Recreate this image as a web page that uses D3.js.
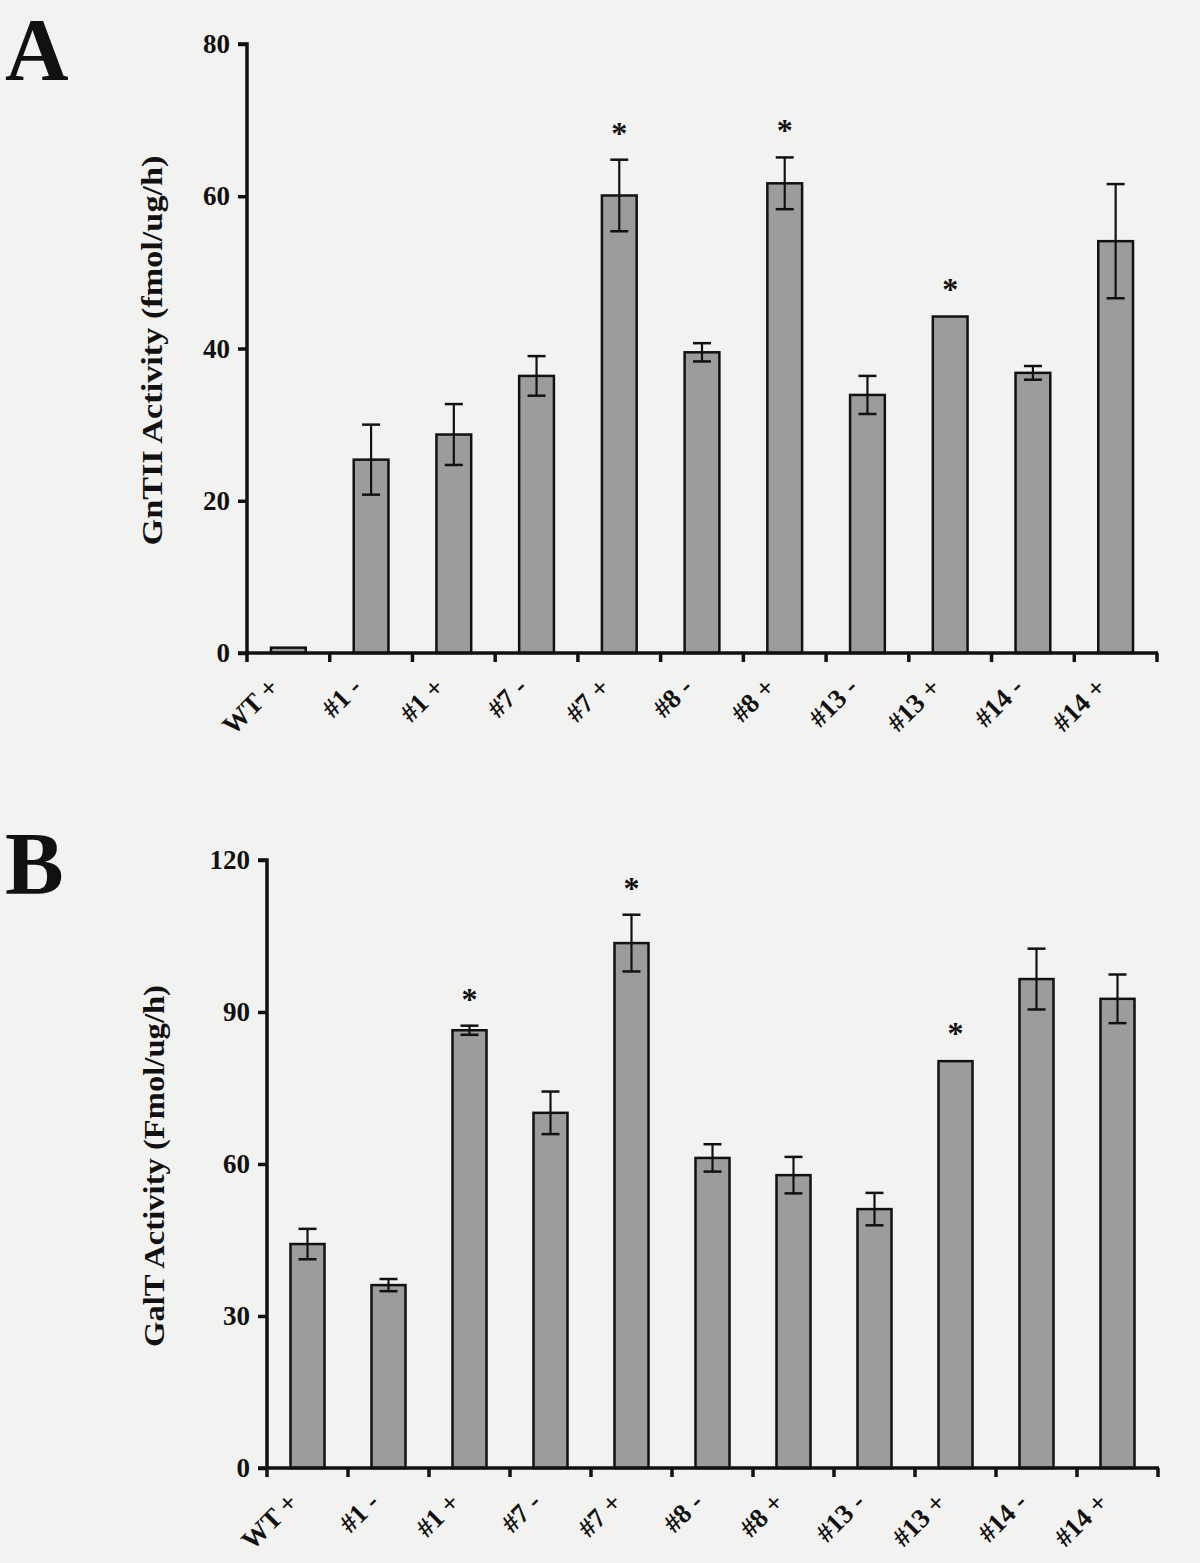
<!DOCTYPE html>
<html>
<head>
<meta charset="utf-8">
<script src="https://cdn.jsdelivr.net/npm/d3@7"></script>
<style>
  html, body { margin: 0; padding: 0; background: #f2f2f0; }
  svg { display: block; }
  text { font-family: "Times New Roman", "Liberation Serif", Times, serif; font-weight: bold; fill: #111; }
</style>
</head>
<body>
<svg id="chart" width="1200" height="1563"></svg>
<script>
// ---------- data ----------
const categories = ["WT +", "#1 -", "#1 +", "#7 -", "#7 +", "#8 -", "#8 +", "#13 -", "#13 +", "#14 -", "#14 +"];

const gntiiMean = [0.7, 25.4, 28.7, 36.4, 60.1, 39.5, 61.7, 33.9, 44.2, 36.8, 54.1];
const gntiiErr  = [0.1, 4.6, 4.0, 2.6, 4.7, 1.2, 3.4, 2.5, 0.1, 0.9, 7.5];
const gntiiSig  = [false, false, false, false, true, false, true, false, true, false, false];
const gntiiTicks = [0, 20, 40, 60, 80];

const galtMean = [44.2, 36.1, 86.4, 70.1, 103.6, 61.2, 57.8, 51.1, 80.3, 96.5, 92.6];
const galtErr  = [3.0, 1.2, 0.9, 4.2, 5.6, 2.7, 3.6, 3.2, 0.2, 6.0, 4.8];
const galtSig  = [false, false, true, false, true, false, false, false, true, false, false];
const galtTicks = [0, 30, 60, 90, 120];

const panelLetters = ["A", "B"];
const yTitles = ["GnTII Activity (fmol/ug/h)", "GalT Activity (Fmol/ug/h)"];

// ---------- drawing ----------
const FONT = '"Times New Roman", "Liberation Serif", Times, serif';
const svg = d3.select("#chart");

const panels = [
  { letter: panelLetters[0], title: yTitles[0], mean: gntiiMean, err: gntiiErr, sig: gntiiSig, ticks: gntiiTicks,
    x0: 247, x1: 1157, yTop: 44, yBot: 653, letterY: 79, titleX: 162, titleLen: 390 },
  { letter: panelLetters[1], title: yTitles[1], mean: galtMean, err: galtErr, sig: galtSig, ticks: galtTicks,
    x0: 267, x1: 1158, yTop: 860, yBot: 1468, letterY: 893, titleX: 164, titleLen: 362 }
];

panels.forEach(p => {
  const g = svg.append("g");
  const x = d3.scaleBand().domain(categories).range([p.x0, p.x1]).padding(0);
  const y = d3.scaleLinear().domain([0, p.ticks[p.ticks.length - 1]]).range([p.yBot, p.yTop]);
  const barW = x.bandwidth() * 0.42;
  const data = categories.map((c, i) => ({ c, m: p.mean[i], e: p.err[i], s: p.sig[i] }));

  // panel letter
  g.append("text").attr("x", 5).attr("y", p.letterY)
    .attr("font-size", 88).attr("font-family", FONT).text(p.letter);

  // y axis
  const yAxis = d3.axisLeft(y).tickValues(p.ticks).tickSize(9).tickPadding(8).tickFormat(d3.format("d"));
  const ya = g.append("g").attr("transform", `translate(${p.x0},0)`).call(yAxis)
    .attr("font-family", FONT);
  ya.select(".domain").attr("stroke", "#111").attr("stroke-width", 3.5).attr("d", `M-9,${y(p.ticks[p.ticks.length-1])}H0V${p.yBot}`);
  ya.selectAll(".tick line").attr("stroke", "#111").attr("stroke-width", 3.5);
  ya.selectAll(".tick text").attr("font-size", 27).attr("font-family", FONT).attr("font-weight", "bold").attr("fill", "#111");

  // y title
  g.append("text")
    .attr("transform", `translate(${p.titleX},${(p.yTop + p.yBot) / 2 + 2}) rotate(-90)`)
    .attr("text-anchor", "middle").attr("font-size", 29).attr("font-family", FONT)
    .attr("textLength", p.titleLen).attr("lengthAdjust", "spacingAndGlyphs")
    .text(p.title);

  // bars
  g.selectAll("rect.bar").data(data).join("rect")
    .attr("class", "bar")
    .attr("x", d => x(d.c) + (x.bandwidth() - barW) / 2)
    .attr("width", barW)
    .attr("y", d => y(d.m))
    .attr("height", d => y(0) - y(d.m))
    .attr("fill", "#9c9c9c").attr("stroke", "#111").attr("stroke-width", 2.5);

  // error bars
  const cx = d => x(d.c) + x.bandwidth() / 2;
  const eb = g.selectAll("g.err").data(data.filter(d => d.e > 0.3)).join("g").attr("class", "err");
  eb.append("line").attr("x1", cx).attr("x2", cx).attr("y1", d => y(d.m + d.e)).attr("y2", d => y(d.m - d.e))
    .attr("stroke", "#111").attr("stroke-width", 2.2);
  eb.append("line").attr("x1", d => cx(d) - 9).attr("x2", d => cx(d) + 9).attr("y1", d => y(d.m + d.e)).attr("y2", d => y(d.m + d.e))
    .attr("stroke", "#111").attr("stroke-width", 2.5);
  eb.append("line").attr("x1", d => cx(d) - 9).attr("x2", d => cx(d) + 9).attr("y1", d => y(d.m - d.e)).attr("y2", d => y(d.m - d.e))
    .attr("stroke", "#111").attr("stroke-width", 2.5);

  // significance asterisks
  g.selectAll("text.sig").data(data.filter(d => d.s)).join("text")
    .attr("class", "sig")
    .attr("x", cx).attr("y", d => y(d.m + d.e) - 16)
    .attr("text-anchor", "middle").attr("font-size", 32).attr("font-family", FONT).text("*");

  // x axis line with boundary ticks
  const xa = g.append("g");
  xa.append("line").attr("x1", p.x0 - 9).attr("x2", p.x1 + 1).attr("y1", p.yBot).attr("y2", p.yBot)
    .attr("stroke", "#111").attr("stroke-width", 3.5);
  const bounds = categories.map(c => x(c)).concat([p.x1]);
  xa.selectAll("line.xt").data(bounds).join("line").attr("class", "xt")
    .attr("x1", d => d).attr("x2", d => d).attr("y1", p.yBot).attr("y2", p.yBot + 9)
    .attr("stroke", "#111").attr("stroke-width", 3.5);

  // x labels
  xa.selectAll("text.xl").data(categories).join("text").attr("class", "xl")
    .attr("transform", c => `translate(${x(c) + x.bandwidth() / 2 - 8},${p.yBot + 36}) rotate(-45)`)
    .attr("text-anchor", "end").attr("font-size", 27).attr("font-family", FONT).text(c => c);
});
</script>
</body>
</html>
